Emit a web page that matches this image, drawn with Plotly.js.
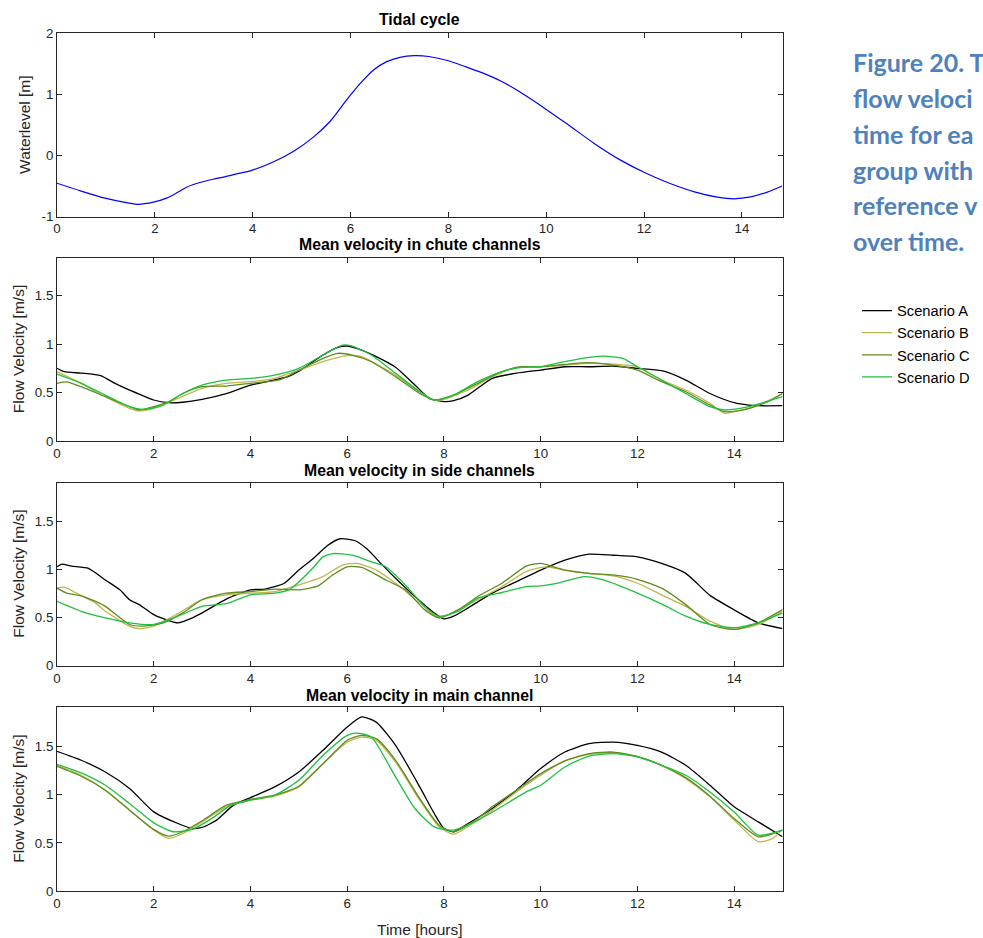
<!DOCTYPE html>
<html>
<head>
<meta charset="utf-8">
<script src="https://cdn.plot.ly/plotly-3.0.1.min.js"></script>
<style>
html,body{margin:0;padding:0;background:#ffffff;overflow:hidden}
#chart{width:983px;height:938px}
</style>
</head>
<body>
<div id="chart"></div>
<script>
// ---------------- DATA ----------------
const scenarioNames = ['Scenario A','Scenario B','Scenario C','Scenario D'];
const panelTitles = ['Tidal cycle','Mean velocity in chute channels','Mean velocity in side channels','Mean velocity in main channel'];
const xTickVals = [0,2,4,6,8,10,12,14];
const tideTickVals = [-1,0,1,2];
const velTickVals = [0,0.5,1,1.5];

// Tidal cycle (waterlevel, m)
const tideT = [0,0.48,0.98,1.47,1.66,1.97,2.24,2.46,2.65,2.92,3.19,3.45,3.74,3.95,4.44,4.83,5.24,5.58,5.92,6.2,6.47,6.74,7.01,7.3,7.6,8,8.36,8.72,9.06,9.4,10,10.43,10.98,11.52,12.02,12.48,13.03,13.5,13.84,14.18,14.52,14.82];
const tideLevel = [-0.455,-0.58,-0.70,-0.78,-0.80,-0.766,-0.70,-0.608,-0.52,-0.444,-0.39,-0.346,-0.29,-0.253,-0.10,0.063,0.30,0.556,0.91,1.18,1.40,1.536,1.607,1.634,1.62,1.55,1.45,1.344,1.224,1.07,0.754,0.514,0.197,-0.077,-0.284,-0.443,-0.596,-0.683,-0.71,-0.68,-0.60,-0.50];

// Chute channels (m/s)
const chuteAT = [0,0.15,0.5,0.9,1.2,1.5,1.75,2,2.3,2.6,3,3.5,4,4.5,4.8,5,5.5,5.8,6,6.2,6.6,7,7.4,7.7,8,8.2,8.5,9,9.5,10,10.5,11,11.5,12,12.5,13,13.5,14,14.3,14.5,15];
const chuteA  = [0.75,0.715,0.70,0.675,0.595,0.525,0.474,0.423,0.395,0.40,0.43,0.49,0.577,0.63,0.67,0.72,0.887,0.966,0.98,0.955,0.87,0.76,0.577,0.44,0.407,0.416,0.474,0.646,0.70,0.732,0.766,0.766,0.773,0.749,0.725,0.629,0.49,0.395,0.37,0.364,0.364];
const chuteBT = [0,0.5,1,1.5,1.7,2,2.5,3,3.5,4,4.5,5,5.5,6,6.3,6.7,7,7.5,7.8,8,8.5,9,9.5,10,10.5,11,11.5,12,12.5,13,13.5,13.8,14,14.5,15];
const chuteB  = [0.715,0.595,0.457,0.337,0.31,0.337,0.44,0.543,0.595,0.612,0.646,0.73,0.818,0.88,0.87,0.766,0.68,0.508,0.423,0.43,0.526,0.663,0.76,0.766,0.783,0.80,0.794,0.766,0.629,0.526,0.388,0.285,0.302,0.37,0.49];
const chuteCT = [0,0.2,0.5,1,1.5,1.7,2,2.3,2.6,3,3.5,4,4.6,5,5.5,5.8,6.1,6.5,7,7.5,7.8,8.2,8.7,9.2,9.6,10,10.5,11,11.5,12,12.5,13,13.5,13.8,14.2,14.7,15];
const chuteC  = [0.595,0.61,0.56,0.457,0.354,0.32,0.354,0.405,0.49,0.56,0.567,0.595,0.63,0.73,0.852,0.904,0.887,0.818,0.663,0.49,0.423,0.474,0.595,0.715,0.766,0.766,0.79,0.808,0.783,0.732,0.612,0.508,0.371,0.302,0.32,0.405,0.49];
const chuteDT = [0,0.5,1,1.5,1.8,2.2,2.6,3,3.5,4,4.5,5,5.5,5.9,6.1,6.5,7,7.5,7.8,8.2,8.7,9.2,9.6,10,10.5,11,11.3,11.7,12,12.5,13,13.5,13.8,14.3,15];
const chuteD  = [0.69,0.595,0.474,0.354,0.326,0.371,0.49,0.577,0.629,0.646,0.68,0.749,0.887,0.99,0.98,0.887,0.698,0.508,0.423,0.474,0.612,0.715,0.76,0.766,0.818,0.862,0.876,0.852,0.766,0.629,0.49,0.354,0.32,0.354,0.457];

// Side channels (m/s)
const sideAT = [0,0.1,0.3,0.65,1,1.3,1.5,1.7,2,2.3,2.5,2.8,3,3.5,4,4.3,4.7,5,5.3,5.6,5.85,6.15,6.4,6.7,7,7.4,7.8,8,8.2,8.5,9,9.5,10,10.5,11,11.5,12,12.5,13,13.5,14,14.5,15];
const sideA  = [1.027,1.055,1.034,1.01,0.89,0.788,0.685,0.634,0.53,0.47,0.445,0.497,0.548,0.692,0.788,0.795,0.856,0.993,1.113,1.25,1.318,1.30,1.216,1.06,0.908,0.719,0.548,0.486,0.514,0.60,0.753,0.873,0.993,1.096,1.158,1.147,1.13,1.062,0.959,0.73,0.58,0.445,0.384];
const sideBT = [0,0.15,0.4,0.8,1,1.5,1.7,2,2.5,3,3.5,4,4.5,5,5.5,5.9,6.2,6.6,7,7.5,7.9,8.3,8.7,9.2,9.7,10.1,10.5,11,11.5,12,12.5,13,13.5,14,14.5,15];
const sideB  = [0.805,0.815,0.753,0.65,0.565,0.411,0.384,0.411,0.541,0.685,0.736,0.753,0.77,0.84,0.925,1.045,1.062,0.993,0.856,0.65,0.497,0.582,0.685,0.822,0.976,1.027,0.993,0.959,0.932,0.856,0.736,0.616,0.462,0.377,0.428,0.565];
const sideCT = [0,0.2,0.5,0.8,1,1.5,1.8,2.2,2.6,3,3.5,4,4.5,5,5.4,5.7,6,6.3,6.8,7.2,7.6,7.9,8.3,8.7,9.2,9.7,10,10.5,11,11.5,12,12.5,13,13.5,14,14.5,15];
const sideC  = [0.805,0.753,0.726,0.668,0.616,0.428,0.411,0.445,0.548,0.685,0.753,0.77,0.795,0.788,0.829,0.942,1.027,1.02,0.89,0.788,0.582,0.497,0.582,0.719,0.856,1.034,1.062,0.993,0.959,0.942,0.897,0.805,0.634,0.428,0.377,0.445,0.582];
const sideDT = [0,0.5,1,1.5,2,2.5,3,3.5,4,4.5,4.8,5,5.3,5.5,5.7,6.1,6.5,6.8,7.2,7.6,7.9,8.3,8.7,9.2,9.7,10,10.4,10.9,11.3,12,12.6,13,13.5,14,14.5,15];
const sideD  = [0.668,0.565,0.497,0.445,0.428,0.514,0.616,0.644,0.736,0.753,0.79,0.87,1.02,1.13,1.164,1.147,1.079,1.027,0.839,0.616,0.514,0.565,0.702,0.76,0.822,0.829,0.863,0.925,0.89,0.753,0.616,0.514,0.428,0.394,0.445,0.548];

// Main channel (m/s)
const mainAT = [0,0.5,1,1.5,2,2.5,2.8,3,3.3,3.65,4,4.5,5,5.5,6,6.3,6.6,7,7.5,7.8,8,8.2,8.5,9,9.5,10,10.5,11,11.5,12,12.5,13,13.5,14,14.5,15];
const mainA  = [1.445,1.353,1.232,1.061,0.82,0.70,0.649,0.659,0.735,0.89,0.968,1.078,1.232,1.456,1.696,1.80,1.747,1.507,1.078,0.803,0.649,0.615,0.70,0.855,1.044,1.267,1.438,1.524,1.541,1.507,1.438,1.301,1.095,0.872,0.717,0.563];
const mainBT = [0,0.5,1,1.5,2,2.3,2.6,3,3.5,4,4.5,5,5.5,6,6.3,6.6,7,7.5,7.9,8.2,8.6,9,9.5,10,10.5,11,11.5,12,12.5,13,13.5,14,14.5,14.8,15];
const mainB  = [1.30,1.198,1.044,0.838,0.632,0.546,0.597,0.717,0.872,0.941,0.982,1.078,1.318,1.541,1.593,1.559,1.335,0.941,0.666,0.59,0.70,0.838,1.026,1.198,1.346,1.414,1.431,1.387,1.301,1.164,0.975,0.735,0.512,0.546,0.639];
const mainCT = [0,0.5,1,1.5,2,2.3,2.6,3,3.5,4,4.5,5,5.5,6,6.3,6.6,7,7.5,7.9,8.2,8.6,9,9.5,10,10.5,11,11.5,12,12.5,13,13.5,14,14.5,15];
const mainC  = [1.29,1.188,1.044,0.838,0.639,0.57,0.615,0.728,0.889,0.948,0.992,1.085,1.318,1.559,1.61,1.576,1.353,0.958,0.683,0.615,0.717,0.872,1.044,1.215,1.346,1.421,1.438,1.394,1.301,1.174,0.982,0.752,0.563,0.632];
const mainDT = [0,0.5,1,1.5,2,2.4,2.8,3.2,3.6,4,4.5,5,5.5,6,6.2,6.5,7,7.4,7.8,8.2,8.7,9.3,9.7,10,10.5,11,11.5,12,12.5,13,13.5,14,14.5,15];
const mainD  = [1.311,1.222,1.095,0.906,0.707,0.615,0.639,0.752,0.889,0.941,0.992,1.147,1.404,1.61,1.634,1.593,1.181,0.855,0.666,0.632,0.735,0.906,1.026,1.095,1.284,1.397,1.421,1.387,1.301,1.198,1.026,0.82,0.58,0.632];

const captionLines = ['Figure 20. T','flow veloci','time for ea','group with','reference v','over time.'];

// ---------------- STYLE / LAYOUT ----------------
const W = 983, H = 938;
const colors = ['#000000','#BDB74C','#5F8B1F','#1EC03D'];
const tideColor = '#0000FF';
const axisColor = '#262626';
const fontFam = 'Liberation Sans, Arial, sans-serif';

const px2x = p => p / W;
const px2y = p => 1 - p / H;
const xDomain = [px2x(57), px2x(782.5)];
// [top, bottom] of each plot area in pixels
const panelPx = [[33.3,216.5],[258.3,441],[482.7,665.7],[707.3,891.3]];

function xAxis(anchor, range){
  return {
    domain: xDomain, anchor: anchor, range: range,
    tickvals: xTickVals, ticktext: xTickVals.map(String),
    ticks: 'inside', ticklen: 5, tickwidth: 1, tickcolor: axisColor,
    showline: true, linecolor: axisColor, linewidth: 1, mirror: 'allticks',
    showgrid: false, zeroline: false, fixedrange: true,
    tickfont: {family: fontFam, size: 13.3, color: axisColor}
  };
}
function yAxis(anchor, i, range, vals){
  return {
    domain: [px2y(panelPx[i][1]), px2y(panelPx[i][0])], anchor: anchor, range: range,
    tickvals: vals, ticktext: vals.map(String),
    ticks: 'inside', ticklen: 5, tickwidth: 1, tickcolor: axisColor,
    showline: true, linecolor: axisColor, linewidth: 1, mirror: 'allticks',
    showgrid: false, zeroline: false, fixedrange: true,
    tickfont: {family: fontFam, size: 13.3, color: axisColor}
  };
}

const traces = [];
traces.push({x: tideT, y: tideLevel, xaxis: 'x', yaxis: 'y', type: 'scatter', mode: 'lines',
  line: {color: tideColor, width: 1.2, shape: 'spline', smoothing: 0.8}, showlegend: false, hoverinfo: 'skip'});

const panels = [
  {ax: ['x2','y2'], T: [chuteAT, chuteBT, chuteCT, chuteDT], V: [chuteA, chuteB, chuteC, chuteD]},
  {ax: ['x3','y3'], T: [sideAT, sideBT, sideCT, sideDT], V: [sideA, sideB, sideC, sideD]},
  {ax: ['x4','y4'], T: [mainAT, mainBT, mainCT, mainDT], V: [mainA, mainB, mainC, mainD]}
];
panels.forEach((p, pi) => {
  for (let s = 0; s < 4; s++) {
    traces.push({
      x: p.T[s], y: p.V[s], xaxis: p.ax[0], yaxis: p.ax[1], type: 'scatter', mode: 'lines',
      name: scenarioNames[s], legendgroup: scenarioNames[s], showlegend: pi === 0,
      line: {color: colors[s], width: 1.3, shape: 'spline', smoothing: 0.6}, hoverinfo: 'skip'
    });
  }
});

const annotations = [];
const titleCentersY = [20, 244, 470, 695];
panelTitles.forEach((t, i) => {
  annotations.push({text: '<b>' + t + '</b>', xref: 'paper', yref: 'paper', x: (xDomain[0] + xDomain[1]) / 2,
    y: px2y(titleCentersY[i]), xanchor: 'center', yanchor: 'middle', showarrow: false,
    font: {family: fontFam, size: 15.8, color: '#000000'}});
});
const yTitles = ['Waterlevel [m]','Flow Velocity [m/s]','Flow Velocity [m/s]','Flow Velocity [m/s]'];
const yTitleX = [25, 18.5, 18.5, 18.5];
yTitles.forEach((t, i) => {
  annotations.push({text: t, xref: 'paper', yref: 'paper', x: px2x(yTitleX[i]),
    y: px2y((panelPx[i][0] + panelPx[i][1]) / 2), xanchor: 'center', yanchor: 'middle', textangle: -90,
    showarrow: false, font: {family: fontFam, size: 15.5, color: axisColor}});
});
annotations.push({text: 'Time [hours]', xref: 'paper', yref: 'paper', x: (xDomain[0] + xDomain[1]) / 2,
  y: px2y(929), xanchor: 'center', yanchor: 'middle', showarrow: false,
  font: {family: fontFam, size: 15.5, color: axisColor}});

const captionY = [62, 98, 134, 170, 205, 241];
captionLines.forEach((t, i) => {
  annotations.push({text: '<b>' + t + '</b>', xref: 'paper', yref: 'paper', x: px2x(851), y: px2y(captionY[i]),
    xanchor: 'left', yanchor: 'middle', showarrow: false,
    font: {family: 'Lato, Open Sans, sans-serif', size: 25, color: '#4F81BD'}});
});

const layout = {
  width: W, height: H,
  margin: {l: 0, r: 0, t: 0, b: 0, pad: 0},
  paper_bgcolor: '#ffffff', plot_bgcolor: '#ffffff',
  font: {family: fontFam, color: axisColor},
  showlegend: true,
  legend: {x: px2x(857), y: px2y(294.5), xanchor: 'left', yanchor: 'top',
    bgcolor: 'rgba(0,0,0,0)', borderwidth: 0, tracegroupgap: 0,
    font: {family: fontFam, size: 14.7, color: '#000000'}},
  xaxis: xAxis('y', [0, 14.83]),
  yaxis: yAxis('x', 0, [-1, 2], tideTickVals),
  xaxis2: xAxis('y2', [0, 15]),
  yaxis2: yAxis('x2', 1, [0, 1.885], velTickVals),
  xaxis3: xAxis('y3', [0, 15]),
  yaxis3: yAxis('x3', 2, [0, 1.9], velTickVals),
  xaxis4: xAxis('y4', [0, 15]),
  yaxis4: yAxis('x4', 3, [0, 1.9], velTickVals),
  annotations: annotations
};

Plotly.newPlot('chart', traces, layout, {displayModeBar: false, staticPlot: true});
</script>
</body>
</html>
